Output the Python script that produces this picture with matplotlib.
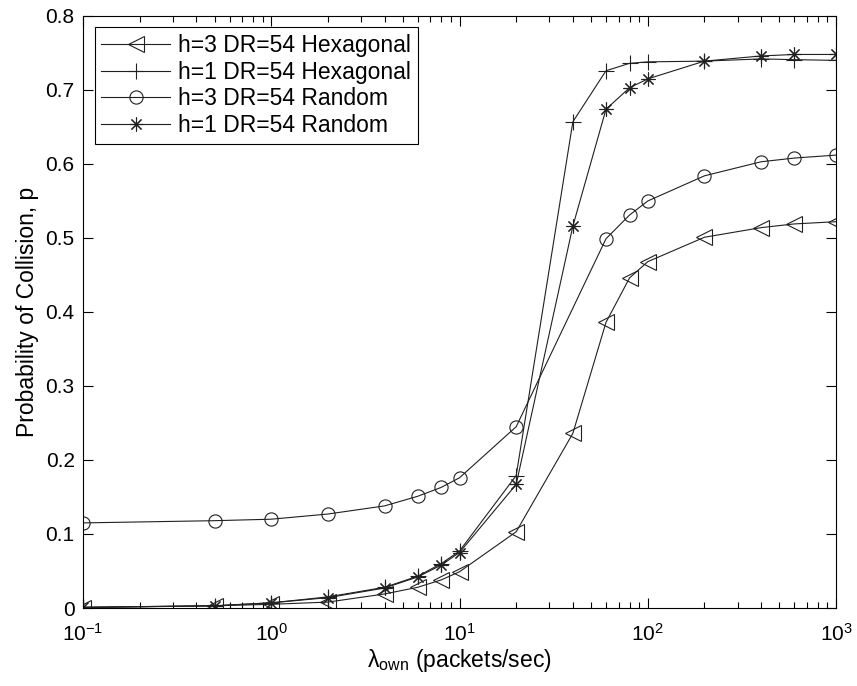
import numpy as np
import matplotlib
matplotlib.use('Agg')
import matplotlib.pyplot as plt
from matplotlib.ticker import FixedLocator, FuncFormatter, LogLocator, NullFormatter

plt.rcParams['font.family'] = ['Liberation Sans', 'DejaVu Sans']
plt.rcParams['mathtext.fontset'] = 'custom'
plt.rcParams['mathtext.rm'] = 'Liberation Sans'
plt.rcParams['mathtext.it'] = 'Liberation Sans'
plt.rcParams['mathtext.default'] = 'regular'

# packet rates (packets/sec)
rate = [0.1, 0.5, 1, 2, 4, 6, 8, 10, 20, 40, 60, 80, 100, 200, 400, 600, 1000]
rate_rand3 = [0.1, 0.5, 1, 2, 4, 6, 8, 10, 20, 60, 80, 100, 200, 400, 600, 1000]

p_hex_h3 = [0.0005, 0.003, 0.005, 0.008, 0.019, 0.028, 0.038, 0.049, 0.103,
            0.236, 0.386, 0.446, 0.468, 0.501, 0.514, 0.519, 0.522]
p_hex_h1 = [0.001, 0.003, 0.007, 0.015, 0.028, 0.043, 0.060, 0.077, 0.179,
            0.657, 0.726, 0.736, 0.738, 0.739, 0.742, 0.741, 0.740]
p_rand_h3 = [0.115, 0.118, 0.120, 0.127, 0.138, 0.151, 0.163, 0.176, 0.245,
             0.499, 0.531, 0.550, 0.584, 0.603, 0.608, 0.612]
p_rand_h1 = [0.001, 0.003, 0.007, 0.014, 0.027, 0.042, 0.058, 0.075, 0.167,
             0.516, 0.674, 0.703, 0.715, 0.739, 0.746, 0.748, 0.748]

labels = ['h=3 DR=54 Hexagonal', 'h=1 DR=54 Hexagonal',
          'h=3 DR=54 Random', 'h=1 DR=54 Random']

fig = plt.figure(figsize=(8.57, 6.86), dpi=100)
ax = fig.add_axes([0.0969, 0.1137, 0.8786, 0.863])

lw = 0.8
ln = '#202020'
ax.plot(rate, p_hex_h3, color=ln, lw=lw, marker='<', ms=11, mfc='none', mew=0.8, label=labels[0])
ax.plot(rate, p_hex_h1, color=ln, lw=lw, marker='+', ms=12, mew=0.8, label=labels[1])
ax.plot(rate_rand3, p_rand_h3, color=ln, lw=lw, marker='o', ms=9.5, mfc='none', mew=0.8, label=labels[2])
ax.plot(rate, p_rand_h1, color=ln, lw=lw, marker=(8, 2, 0), ms=10, mew=0.8, label=labels[3])

ax.set_xscale('log')
ax.set_xlim(0.1, 1000)
ax.set_ylim(0, 0.8)
ax.yaxis.set_major_locator(FixedLocator(np.arange(0, 0.81, 0.1)))
ax.yaxis.set_major_formatter(FuncFormatter(lambda v, _: '0' if abs(v) < 1e-9 else f'{v:.1f}'))
ax.xaxis.set_major_locator(LogLocator(base=10, numticks=10))
ax.xaxis.set_minor_locator(LogLocator(base=10, subs=np.arange(2, 10), numticks=20))
ax.xaxis.set_minor_formatter(NullFormatter())

ax.tick_params(which='both', direction='in', top=True, right=True, labelsize=15, width=0.8)
ax.tick_params(which='major', length=7)
ax.tick_params(which='minor', length=4)
ax.tick_params(axis='y', pad=6)
ax.tick_params(axis='x', pad=11)
for s in ax.spines.values():
    s.set_linewidth(0.8)

ax.set_xlabel(r'$\lambda_{own}$ (packets/sec)', fontsize=16.5, labelpad=1)
ax.set_ylabel('Probability of Collision, p', fontsize=16.5, labelpad=5)

leg = ax.legend(loc='upper left', fontsize=16.5, fancybox=False, edgecolor='k',
                framealpha=1, borderaxespad=0.5, handlelength=3.0, borderpad=0.3,
                labelspacing=0.15, handletextpad=0.35)
leg.get_frame().set_linewidth(0.8)

fig.savefig('out.png', dpi=100)
